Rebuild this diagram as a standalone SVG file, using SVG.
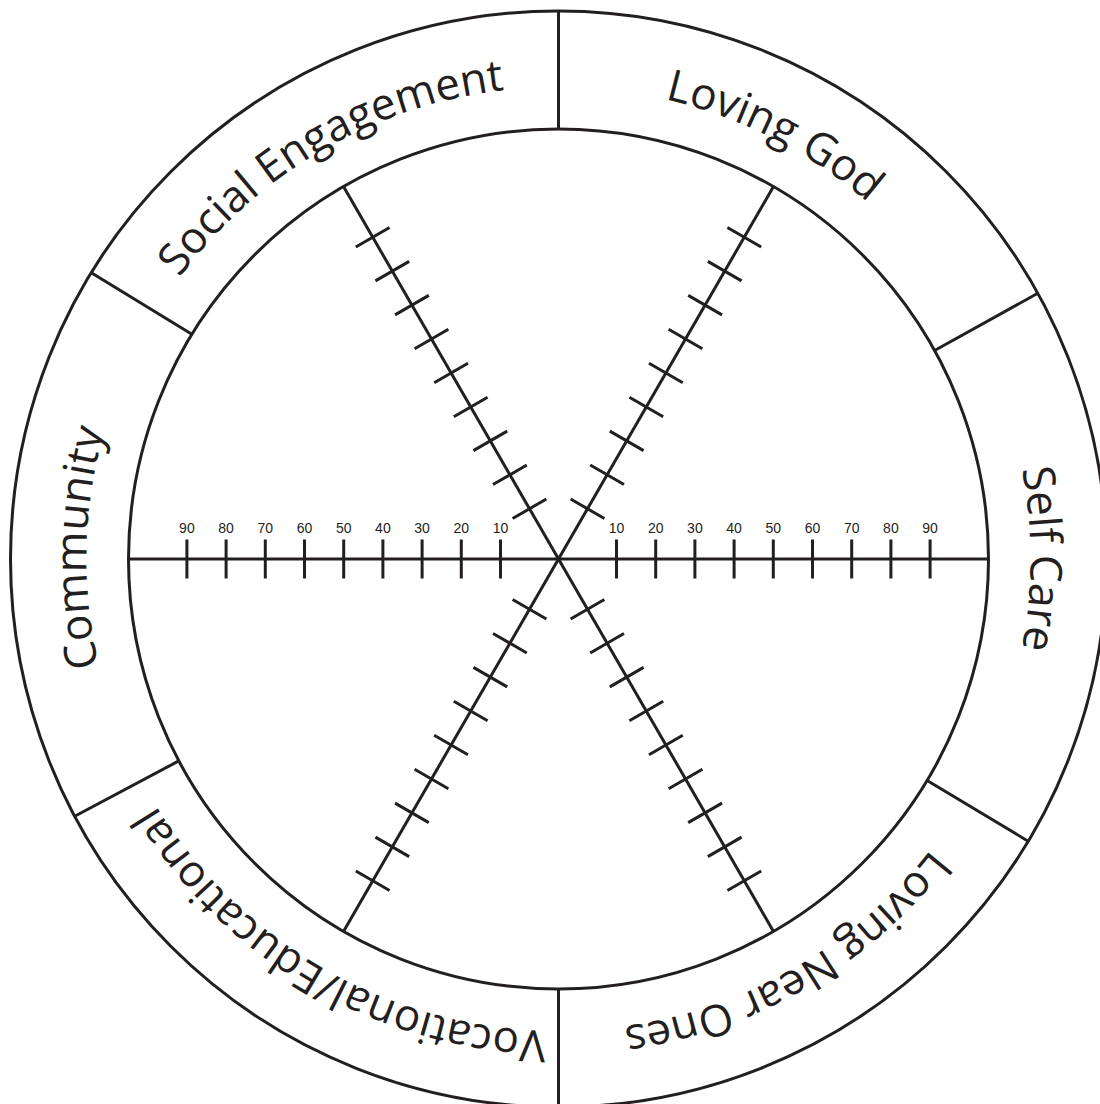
<svg xmlns="http://www.w3.org/2000/svg" xmlns:xlink="http://www.w3.org/1999/xlink" width="1100" height="1104" viewBox="0 0 1100 1104">
  <style>
    .ln { stroke: #231f20; stroke-width: 3; fill: none; }
    .lbl { font-family: "Open Sans", "Noto Sans", sans-serif; font-size: 44px; fill: #231f20; }
    .num { font-family: "Liberation Sans", Arial, sans-serif; font-size: 14px; fill: #231f20; text-anchor: middle; }
  </style>
  <defs>
    <path id="ring" d="M 558.5,1031 A 472 472 0 1 1 558.5,87 A 472 472 0 1 1 558.5,1031"/>
    <g id="axis" class="ln">
      <line x1="-430" y1="0" x2="430" y2="0"/>
      <path d="M58,-19.5V19.5 M97.2,-19.5V19.5 M136.4,-19.5V19.5 M175.6,-19.5V19.5 M214.8,-19.5V19.5 M254,-19.5V19.5 M293.2,-19.5V19.5 M332.4,-19.5V19.5 M371.6,-19.5V19.5 M-58,-19.5V19.5 M-97.2,-19.5V19.5 M-136.4,-19.5V19.5 M-175.6,-19.5V19.5 M-214.8,-19.5V19.5 M-254,-19.5V19.5 M-293.2,-19.5V19.5 M-332.4,-19.5V19.5 M-371.6,-19.5V19.5"/>
    </g>
  </defs>
  <rect width="1100" height="1104" fill="#ffffff"/>
  <g id="rings">
    <circle class="ln" cx="558.5" cy="559" r="548"/>
    <circle class="ln" cx="558.5" cy="559" r="430"/>
  </g>
  <g id="dividers" class="ln">
    <line x1="558.5" y1="129" x2="558.5" y2="11"/>
    <line x1="558.5" y1="989" x2="558.5" y2="1107"/>
    <line x1="934.6" y1="350.5" x2="1037.8" y2="293.3"/>
    <line x1="191.9" y1="334.3" x2="91.3" y2="272.7"/>
    <line x1="178.8" y1="760.9" x2="74.7" y2="816.3"/>
    <line x1="927.1" y1="780.5" x2="1028.2" y2="841.2"/>
  </g>
  <g id="axes">
    <use xlink:href="#axis" transform="translate(558.5,559)"/>
    <use xlink:href="#axis" transform="translate(558.5,559) rotate(60)"/>
    <use xlink:href="#axis" transform="translate(558.5,559) rotate(-60)"/>
  </g>
  <g id="scale-labels">
    <text class="num" x="616.5" y="533">10</text>
    <text class="num" x="655.7" y="533">20</text>
    <text class="num" x="694.9" y="533">30</text>
    <text class="num" x="734.1" y="533">40</text>
    <text class="num" x="773.3" y="533">50</text>
    <text class="num" x="812.5" y="533">60</text>
    <text class="num" x="851.7" y="533">70</text>
    <text class="num" x="890.9" y="533">80</text>
    <text class="num" x="930.1" y="533">90</text>
    <text class="num" x="500.5" y="533">10</text>
    <text class="num" x="461.3" y="533">20</text>
    <text class="num" x="422.1" y="533">30</text>
    <text class="num" x="382.9" y="533">40</text>
    <text class="num" x="343.7" y="533">50</text>
    <text class="num" x="304.5" y="533">60</text>
    <text class="num" x="265.3" y="533">70</text>
    <text class="num" x="226.1" y="533">80</text>
    <text class="num" x="186.9" y="533">90</text>
  </g>
  <g id="node-vocational"><text class="lbl"><textPath xlink:href="#ring" startOffset="8.333%" text-anchor="middle">Vocational/Educational</textPath></text></g>
  <g id="node-community"><text class="lbl"><textPath xlink:href="#ring" startOffset="25.37%" text-anchor="middle">Community</textPath></text></g>
  <g id="node-social"><text class="lbl"><textPath xlink:href="#ring" startOffset="41.667%" text-anchor="middle">Social Engagement</textPath></text></g>
  <g id="node-loving-god"><text class="lbl"><textPath xlink:href="#ring" startOffset="57.5%" text-anchor="middle">Loving God</textPath></text></g>
  <g id="node-self-care"><text class="lbl"><textPath xlink:href="#ring" startOffset="75%" text-anchor="middle">Self Care</textPath></text></g>
  <g id="node-loving-near"><text class="lbl"><textPath xlink:href="#ring" startOffset="91.667%" text-anchor="middle">Loving Near Ones</textPath></text></g>
</svg>
